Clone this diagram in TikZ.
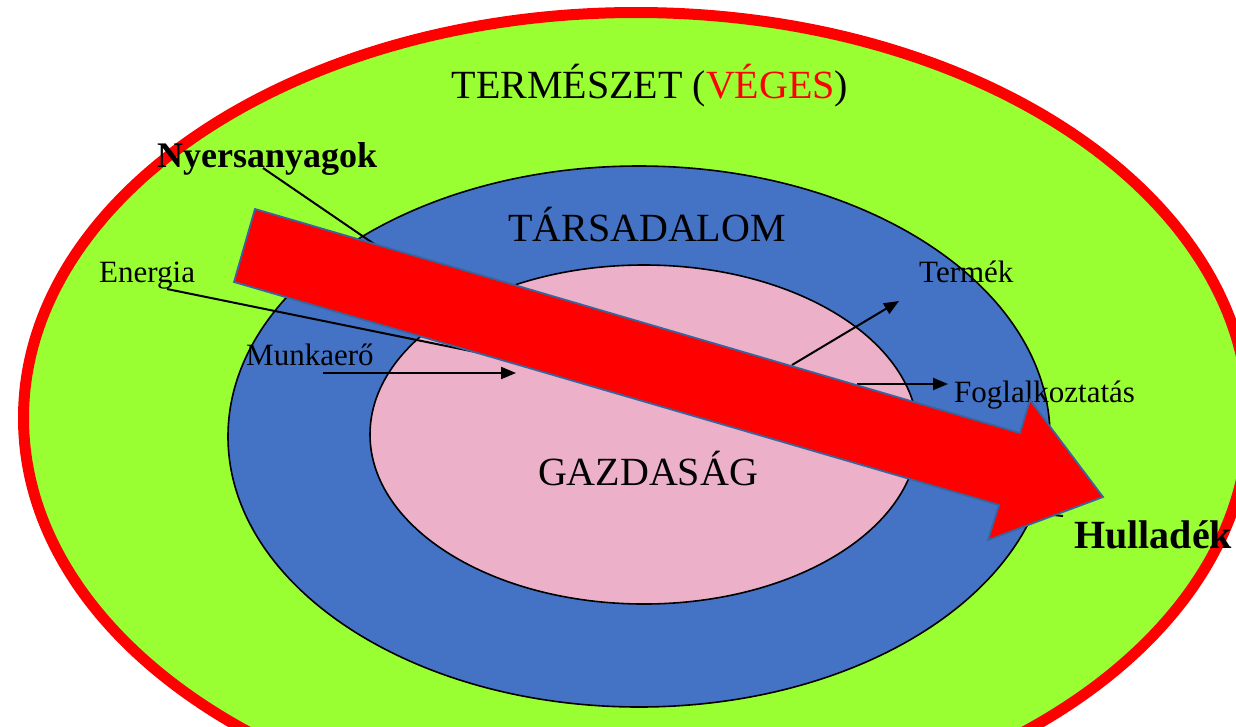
\documentclass[tikz,border=0pt]{standalone}
\usepackage{fontspec}
\setmainfont{Liberation Serif}
\usetikzlibrary{arrows.meta}
\definecolor{natgreen}{RGB}{153,255,51}
\definecolor{socblue}{RGB}{68,114,196}
\definecolor{ecopink}{RGB}{236,176,201}
\definecolor{arrowedge}{RGB}{58,100,160}
\tikzset{
  bigtxt/.style={inner sep=0pt, anchor=base, font=\fontsize{40}{48}\selectfont},
  smalltxt/.style={inner sep=0pt, anchor=base west, font=\fontsize{31}{37}\selectfont},
  boldtxt/.style={inner sep=0pt, anchor=base west, font=\bfseries\fontsize{#1}{#1}\selectfont},
  ring/.style={draw=black, line width=1.6pt},
  conn/.style={draw=black, line width=2pt},
  arr/.style={conn, -{Triangle[length=15pt,width=12pt]}},
  flow/.style={fill=red, draw=arrowedge, line width=1.8pt, line join=miter}
}
\begin{document}
\begin{tikzpicture}[x=1pt,y=-1pt]
\useasboundingbox (0,0) rectangle (1236,726);
\clip (0,0) rectangle (1236,726);
% ellipses
\draw[fill=natgreen, draw=red, line width=11pt] (636,418) ellipse [x radius=612.5, y radius=405.5];
\draw[ring, fill=socblue] (639,436.5) ellipse [x radius=411, y radius=270.5];
\draw[ring, fill=ecopink] (644,434.5) ellipse [x radius=274, y radius=169.5];
% labels
\node[bigtxt] (term) at (650,98) {TERMÉSZET (\textcolor{red}{VÉGES})};
\node[bigtxt] (tars) at (647,241) {TÁRSADALOM};
\node[bigtxt] (gazd) at (648,485) {GAZDASÁG};
\node[boldtxt=36] (nyers) at (157,167) {Nyersanyagok};
\node[boldtxt=40] (hull) at (1074,548) {Hulladék};
\node[smalltxt] (ener) at (99,282) {Energia};
\node[smalltxt] (munka) at (246,365) {Munkaerő};
\node[smalltxt] (termek) at (919,282) {Termék};
\node[smalltxt] (fogl) at (954,402) {Foglalkoztatás};
% connector end points
\coordinate (nyA) at (263,168);
\coordinate (nyB) at (380,248);
\coordinate (enA) at (167,289);
\coordinate (enB) at (505,358);
\coordinate (muA) at (323,373);
\coordinate (muB) at (516,373);
\coordinate (teA) at (792,365);
\coordinate (teB) at (899,301);
\coordinate (foA) at (857,384);
\coordinate (foB) at (948,384);
\coordinate (huA) at (1035,513);
\coordinate (huB) at (1063,516);
% connectors
\draw[conn] (nyA) -- (nyB);
\draw[conn] (enA) -- (enB);
\draw[arr] (muA) -- (muB);
\draw[arr] (teA) -- (teB);
\draw[arr] (foA) -- (foB);
\draw[conn] (huA) -- (huB);
% big flow arrow
\draw[flow] (255,209) -- (1020,433) -- (1030,400) -- (1103,497) -- (988,540) -- (999,505) -- (234,282) -- cycle;
\end{tikzpicture}
\end{document}
